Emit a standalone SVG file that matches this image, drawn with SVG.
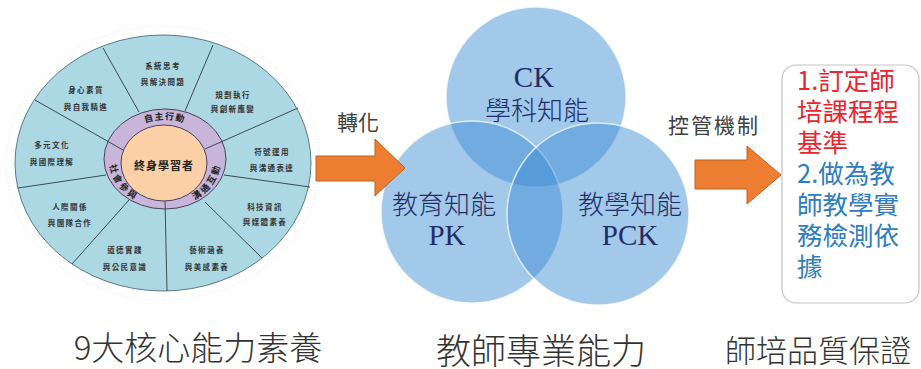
<svg xmlns="http://www.w3.org/2000/svg" width="921" height="369" viewBox="0 0 921 369">
<style>
.seg{font-family:"Noto Sans CJK TC","Noto Sans CJK SC",sans-serif;font-size:7.5px;fill:#333;letter-spacing:1.4px;text-anchor:middle;font-weight:bold}
.band{font-family:"Noto Sans CJK TC","Noto Sans CJK SC",sans-serif;font-size:9px;fill:#222;letter-spacing:1.5px;font-weight:bold}
.div{stroke:#3d4a50;stroke-width:1;fill:none}
.venn{fill:#3a8bd3;fill-opacity:0.47;stroke:#ffffff;stroke-opacity:0.7;stroke-width:1.5}
.vt{font-family:"Noto Sans CJK TC","Noto Sans CJK SC",sans-serif;font-size:26px;fill:#1f2f66;text-anchor:middle;font-weight:300}
.vl{font-family:"Liberation Serif","Noto Sans CJK TC",serif;font-size:29px;fill:#1f2f66;text-anchor:middle}
.arrow{fill:#ed7d31;stroke:#c0601e;stroke-width:1}
.lbl{font-family:"Noto Sans CJK TC","Noto Sans CJK SC",sans-serif;font-size:21px;fill:#404040}
.cap{font-family:"Noto Sans CJK TC","Noto Sans CJK SC",sans-serif;fill:#333;font-weight:300;text-anchor:middle}
.bx{font-family:"Noto Sans CJK TC","Noto Sans CJK SC",sans-serif;font-size:25.5px}
.red{fill:#e8262f}
.blue{fill:#2e7dc0}
</style>
<defs>
<path id="arcTop" d="M125.2,131.7 A52,44 0 0 1 204.8,131.7"/>
<path id="arcLeft" d="M116.1,145 A52,44 0 0 0 156,203.3"/>
<path id="arcRight" d="M174,203.3 A52,44 0 0 0 213.9,145"/>
</defs>

<g id="wheel">
<ellipse cx="163" cy="163" rx="157" ry="137" fill="none" stroke="#e4e4e4" stroke-width="1" stroke-dasharray="1 2"/>
<ellipse cx="163" cy="163" rx="148" ry="128" fill="#acd8e4" stroke="#5a7a86" stroke-width="1"/>
<line class="div" x1="139" y1="112" x2="103" y2="48"/>
<line class="div" x1="185" y1="111" x2="213" y2="45"/>
<line class="div" x1="224" y1="175" x2="310" y2="187"/>
<line class="div" x1="205" y1="202" x2="262" y2="258"/>
<line class="div" x1="129" y1="200" x2="72" y2="264"/>
<line class="div" x1="106" y1="175" x2="18" y2="188"/>
<ellipse cx="165" cy="159" rx="61" ry="50" fill="#c8b5d9" stroke="#4a4060" stroke-width="1"/>
<line class="div" x1="205" y1="149" x2="298" y2="108"/>
<line class="div" x1="165" y1="199" x2="167" y2="291"/>
<line class="div" x1="123" y1="150" x2="35" y2="100"/>
<ellipse cx="164" cy="163" rx="43" ry="38" fill="#fbd0a6" stroke="#4a4060" stroke-width="1"/>
<text x="164" y="170" font-family="Noto Sans CJK TC,Noto Sans CJK SC,sans-serif" font-size="11px" font-weight="bold" fill="#222" text-anchor="middle" letter-spacing="1">終身學習者</text>
<text class="band"><textPath href="#arcTop" startOffset="50%" text-anchor="middle" dominant-baseline="central">自主行動</textPath></text>
<text class="band"><textPath href="#arcLeft" startOffset="50%" text-anchor="middle" dominant-baseline="central">社會參與</textPath></text>
<text class="band"><textPath href="#arcRight" startOffset="50%" text-anchor="middle" dominant-baseline="central">溝通互動</textPath></text>
<text class="seg" x="163" y="69">系統思考</text><text class="seg" x="163" y="85">與解決問題</text>
<text class="seg" x="233" y="98">規劃執行</text><text class="seg" x="233" y="112">與創新應變</text>
<text class="seg" x="272" y="155">符號運用</text><text class="seg" x="272" y="171">與溝通表達</text>
<text class="seg" x="265" y="210">科技資訊</text><text class="seg" x="265" y="225">與媒體素養</text>
<text class="seg" x="207" y="253">藝術涵養</text><text class="seg" x="207" y="270">與美感素養</text>
<text class="seg" x="125" y="253">道德實踐</text><text class="seg" x="125" y="270">與公民意識</text>
<text class="seg" x="70" y="210">人際關係</text><text class="seg" x="70" y="226">與團隊合作</text>
<text class="seg" x="52" y="148">多元文化</text><text class="seg" x="52" y="165">與國際理解</text>
<text class="seg" x="86" y="93">身心素質</text><text class="seg" x="86" y="110">與自我精進</text>
</g>

<g id="venn">
<circle class="venn" cx="536" cy="97" r="90"/>
<circle class="venn" cx="472" cy="212" r="91"/>
<circle class="venn" cx="598" cy="214" r="91"/>
<text class="vl" x="534" y="87">CK</text>
<text class="vt" x="537" y="120">學科知能</text>
<text class="vt" x="444" y="214">教育知能</text>
<text class="vl" x="447" y="245">PK</text>
<text class="vt" x="630" y="214">教學知能</text>
<text class="vl" x="630" y="245">PCK</text>
</g>

<g id="box">
<rect x="782" y="65" width="137" height="238" rx="14" fill="#fff" stroke="#c4c4c4" stroke-width="1.2"/>
<text class="bx red" x="797" y="90">1.訂定師</text>
<text class="bx red" x="797" y="121">培課程程</text>
<text class="bx red" x="797" y="152">基準</text>
<text class="bx blue" x="797" y="183">2.做為教</text>
<text class="bx blue" x="797" y="214">師教學實</text>
<text class="bx blue" x="797" y="245">務檢測依</text>
<text class="bx blue" x="797" y="276">據</text>
</g>

<g id="connectors">
<polygon class="arrow" points="316,156 375,156 375,139 405,168 375,196 375,181 316,181"/>
<polygon class="arrow" points="695,160 747,160 747,146 781,175 747,204 747,189 695,189"/>
<text class="lbl" x="337" y="130">轉化</text>
<text class="lbl" x="668" y="133" letter-spacing="2">控管機制</text>
</g>

<g id="captions">
<text class="cap" x="198" y="360" font-size="33px">9大核心能力素養</text>
<text class="cap" x="541" y="364" font-size="35px">教師專業能力</text>
<text class="cap" x="818" y="362" font-size="31px">師培品質保證</text>
</g>
</svg>
